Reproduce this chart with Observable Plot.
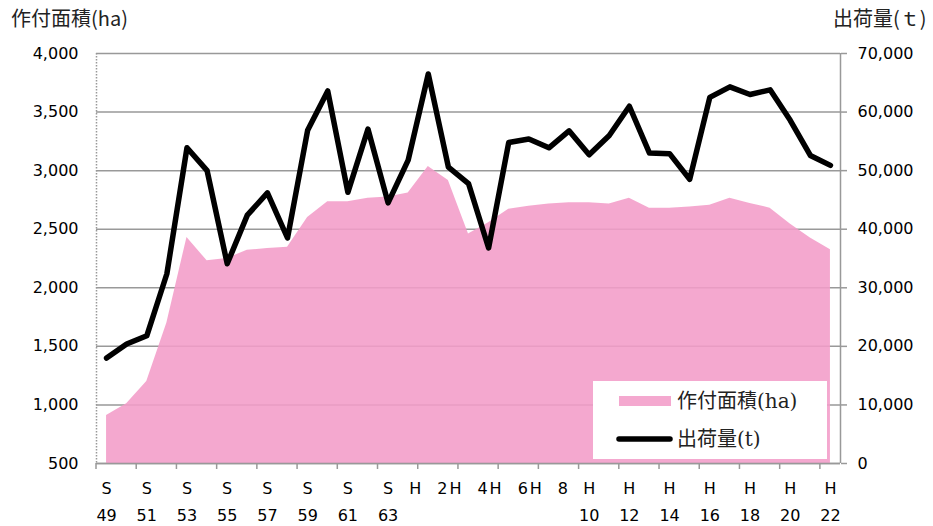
<!DOCTYPE html>
<html><head><meta charset="utf-8">
<script src="https://cdn.jsdelivr.net/npm/d3@7"></script>
<script src="https://cdn.jsdelivr.net/npm/@observablehq/plot@0.6"></script>
<style>
html,body{margin:0;padding:0;background:#fff;}
#chart{width:933px;height:526px;}
</style></head><body><div id="chart"></div>
<script>
// years (S = Showa, H = Heisei)
const years = ["S49","S50","S51","S52","S53","S54","S55","S56","S57","S58","S59","S60","S61","S62","S63",
  "H1","H2","H3","H4","H5","H6","H7","H8","H9","H10","H11","H12","H13","H14","H15","H16","H17","H18","H19","H20","H21","H22"];
// 作付面積 (ha) – left axis
const plantedArea = [910,1010,1200,1700,2430,2230,2250,2320,2335,2345,2600,2735,2735,2765,2775,
  2810,3035,2915,2460,2555,2670,2695,2715,2725,2725,2715,2765,2680,2680,2690,2705,2765,2720,2680,2545,2425,2325];
// 出荷量 (t) – right axis
const shipments = [18000,20400,21800,32400,53900,50000,34100,42400,46200,38500,56900,63600,46300,57100,44500,
  51800,66500,50600,47800,36800,54800,55400,53900,56800,52700,56000,61000,53000,52900,48500,62500,64300,63000,63800,58600,52600,50900];
// x tick labels (every other year)
const xTickLabels = ["S\n49","S\n51","S\n53","S\n55","S\n57","S\n59","S\n61","S\n63",
  "H\u30002","H\u30004","H\u30006","H\u30008","H\n10","H\n12","H\n14","H\n16","H\n18","H\n20","H\n22"];
const leftTicks = [500,1000,1500,2000,2500,3000,3500,4000];
const rightTicks = [0,10000,20000,30000,40000,50000,60000,70000];
const seriesNames = ["作付面積(ha)","出荷量(t)"];
const axisTitles = ["作付面積(ha)","出荷量(ｔ)"];

const leftMin = leftTicks[0], leftMax = leftTicks[leftTicks.length-1];
const rightMax = rightTicks[rightTicks.length-1];
const toLeft = v => leftMin + v * (leftMax - leftMin) / rightMax;
const toRight = v => (v - leftMin) * rightMax / (leftMax - leftMin);

const data = years.map((y, i) => ({i, year: y, area: plantedArea[i], ship: shipments[i]}));
const tickData = xTickLabels.map((t, k) => ({i: k * 2, label: t}));
const boundaries = tickData.map(d => d.i - 0.5);

const pinkFill = "#F29CC8";
const fontNum = "'DejaVu Sans','Noto Sans CJK JP',sans-serif";

const svg = Plot.plot({
  width: 933, height: 526,
  marginLeft: 96, marginRight: 93, marginTop: 53, marginBottom: 63,
  x: {type: "linear", domain: [-0.5, years.length - 0.5], axis: null},
  y: {type: "linear", domain: [leftMin, leftMax], axis: null},
  style: {fontFamily: fontNum, fontSize: "16px", color: "#000", background: "#fff"},
  marks: [
    Plot.ruleY(leftTicks, {stroke: "#999", strokeWidth: 1.5, strokeOpacity: 1}),
    Plot.areaY(data, {x: "i", y1: leftMin, y2: "area", fill: pinkFill, fillOpacity: 0.88}),
    Plot.ruleX([-0.5], {stroke: "#999", strokeWidth: 1.5, strokeDasharray: "1.5,1.5"}),
    Plot.ruleX([years.length - 0.5], {stroke: "#999", strokeWidth: 1.5}),
    Plot.ruleY([leftMin], {stroke: "#999", strokeWidth: 1.5}),
    Plot.line(data, {x: "i", y: d => toLeft(d.ship), stroke: "#000", strokeWidth: 5.5,
      strokeLinejoin: "round", strokeLinecap: "round"}),
    Plot.axisY({anchor: "left", ticks: leftTicks, tickSize: 0, tickPadding: 18, label: null,
      tickFormat: d => d.toLocaleString("en-US"), fontSize: 16}),
    Plot.axisY({anchor: "right", ticks: rightTicks.map(toLeft), tickSize: 6, tickPadding: 11, label: null,
      stroke: "#999", strokeWidth: 1.5,
      tickFormat: d => Math.round(toRight(d)).toLocaleString("en-US"), fontSize: 16}),
    Plot.text(tickData, {x: "i", text: "label", frameAnchor: "bottom", lineAnchor: "top",
      dy: 11, lineHeight: 1.69, fontSize: 16, fill: "#000"})
  ]
});

document.getElementById("chart").appendChild(svg);

const s = d3.select(svg);
const xScale = svg.scale("x"), yScale = svg.scale("y");
const y0 = yScale.apply(leftMin);
// x-axis tick marks (downward) at every second category boundary
s.append("g").selectAll("line").data(boundaries).join("line")
  .attr("x1", d => xScale.apply(d)).attr("x2", d => xScale.apply(d))
  .attr("y1", y0).attr("y2", y0 + 6).attr("stroke", "#999").attr("stroke-width", 1.5);

// axis titles
s.append("text").text(axisTitles[0]).attr("x", 11).attr("y", 26).attr("text-anchor", "start")
  .attr("font-family", "'Noto Sans CJK JP',sans-serif").attr("font-size", 20).attr("fill", "#222");
s.append("text").text(axisTitles[1]).attr("x", 833).attr("y", 26).attr("text-anchor", "start")
  .attr("font-family", "'Noto Sans CJK JP',sans-serif").attr("font-size", 20).attr("fill", "#222");

// legend
const lg = s.append("g");
lg.append("rect").attr("x", 593).attr("y", 381).attr("width", 234).attr("height", 78).attr("fill", "#fff");
lg.append("rect").attr("x", 619).attr("y", 396).attr("width", 52).attr("height", 10)
  .attr("fill", pinkFill).attr("fill-opacity", 0.88);
lg.append("line").attr("x1", 619).attr("x2", 670).attr("y1", 439).attr("y2", 439)
  .attr("stroke", "#000").attr("stroke-width", 5.5).attr("stroke-linecap", "round");
const legFont = "'DejaVu Serif','Noto Sans CJK JP',serif";
lg.append("text").text(seriesNames[0]).attr("x", 677).attr("y", 408).attr("text-anchor", "start")
  .attr("font-family", legFont).attr("font-size", 20).attr("fill", "#222");
lg.append("text").text(seriesNames[1]).attr("x", 677).attr("y", 446).attr("text-anchor", "start")
  .attr("font-family", legFont).attr("font-size", 20).attr("fill", "#222");
</script>
</body></html>
